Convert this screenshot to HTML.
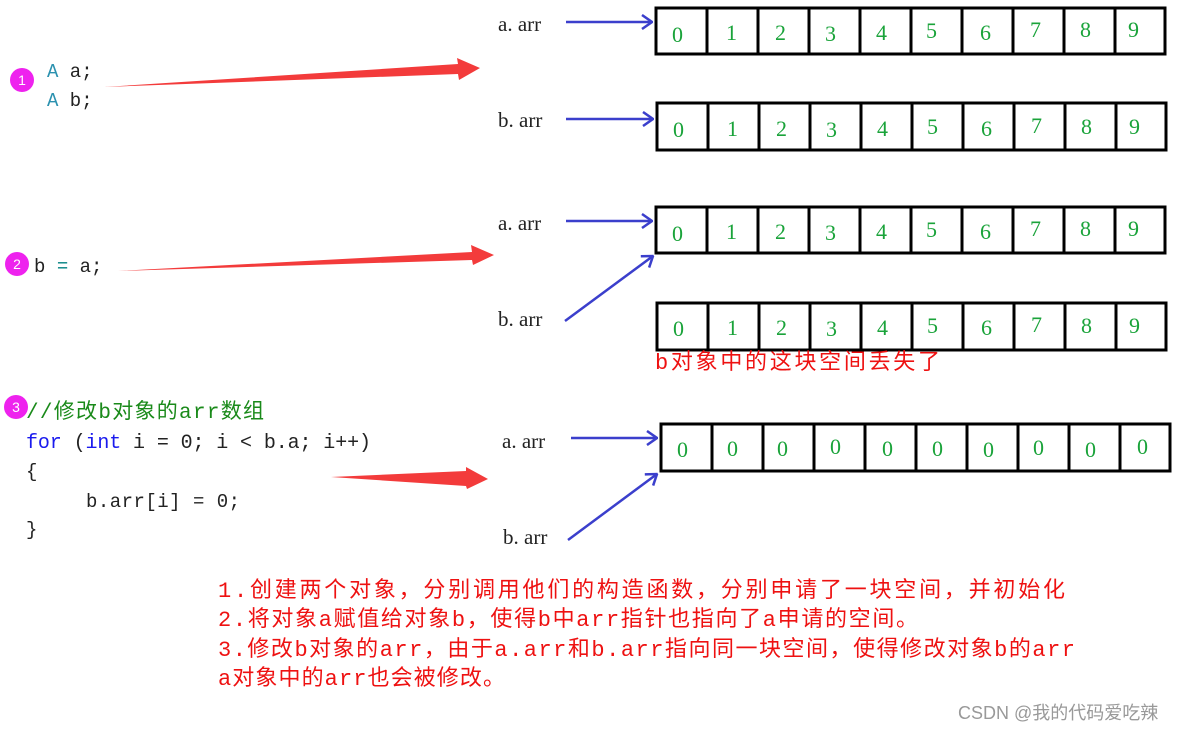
<!DOCTYPE html>
<html><head><meta charset="utf-8"><style>
body{margin:0;background:#fff;}
svg{display:block;}
</style></head><body>
<svg width="1184" height="731" xmlns="http://www.w3.org/2000/svg" font-family="'Liberation Serif','Noto Serif CJK SC',serif">
<defs>
<marker id="ob" markerWidth="12" markerHeight="16" refX="11" refY="8" orient="auto" markerUnits="userSpaceOnUse">
<path d="M1,1 L11,8 L1,15" fill="none" stroke="#3b3fcc" stroke-width="2.5"/></marker>
</defs>
<g stroke="#000" stroke-width="3" fill="none">
<rect x="656" y="8" width="509" height="46"/>
<rect x="657" y="103" width="509" height="47"/>
<rect x="656" y="207" width="509" height="46"/>
<rect x="657" y="303" width="509" height="47"/>
<rect x="661" y="424" width="509" height="47"/>
</g>
<g stroke="#000" stroke-width="3">
<path d="M707,8V54M758,8V54M809,8V54M860,8V54M911,8V54M962,8V54M1013,8V54M1064,8V54M1115,8V54"/>
<path d="M708,103V150M759,103V150M810,103V150M861,103V150M912,103V150M963,103V150M1014,103V150M1065,103V150M1116,103V150"/>
<path d="M707,207V253M758,207V253M809,207V253M860,207V253M911,207V253M962,207V253M1013,207V253M1064,207V253M1115,207V253"/>
<path d="M708,303V350M759,303V350M810,303V350M861,303V350M912,303V350M963,303V350M1014,303V350M1065,303V350M1116,303V350"/>
<path d="M712,424V471M763,424V471M814,424V471M865,424V471M916,424V471M967,424V471M1018,424V471M1069,424V471M1120,424V471"/>
</g>
<g fill="#1aa33a" font-size="22">
<text x="672" y="42">0</text><text x="726" y="40">1</text><text x="775" y="40">2</text><text x="825" y="41">3</text><text x="876" y="40">4</text><text x="926" y="38">5</text><text x="980" y="40">6</text><text x="1030" y="37">7</text><text x="1080" y="37">8</text><text x="1128" y="37">9</text>
<text x="673" y="137">0</text><text x="727" y="136">1</text><text x="776" y="136">2</text><text x="826" y="137">3</text><text x="877" y="136">4</text><text x="927" y="134">5</text><text x="981" y="136">6</text><text x="1031" y="133">7</text><text x="1081" y="134">8</text><text x="1129" y="134">9</text>
<text x="672" y="241">0</text><text x="726" y="239">1</text><text x="775" y="239">2</text><text x="825" y="240">3</text><text x="876" y="239">4</text><text x="926" y="237">5</text><text x="980" y="239">6</text><text x="1030" y="236">7</text><text x="1080" y="236">8</text><text x="1128" y="236">9</text>
<text x="673" y="336">0</text><text x="727" y="335">1</text><text x="776" y="335">2</text><text x="826" y="336">3</text><text x="877" y="335">4</text><text x="927" y="333">5</text><text x="981" y="335">6</text><text x="1031" y="332">7</text><text x="1081" y="333">8</text><text x="1129" y="333">9</text>
<text x="677" y="457">0</text><text x="727" y="456">0</text><text x="777" y="456">0</text><text x="830" y="454">0</text><text x="882" y="456">0</text><text x="932" y="456">0</text><text x="983" y="457">0</text><text x="1033" y="455">0</text><text x="1085" y="457">0</text><text x="1137" y="454">0</text>
</g>
<g font-size="21" fill="#222">
<text x="498" y="31">a. arr</text><text x="498" y="127">b. arr</text>
<text x="498" y="230">a. arr</text><text x="498" y="326">b. arr</text>
<text x="502" y="448">a. arr</text><text x="503" y="544">b. arr</text>
</g>
<g stroke="#3b3fcc" stroke-width="2.5" fill="none" marker-end="url(#ob)">
<line x1="566" y1="22" x2="652" y2="22"/>
<line x1="566" y1="119" x2="653" y2="119"/>
<line x1="566" y1="221" x2="652" y2="221"/>
<line x1="565" y1="321" x2="653" y2="256"/>
<line x1="571" y1="438" x2="657" y2="438"/>
<line x1="568" y1="540" x2="657" y2="474"/>
</g>
<g fill="#f33b3b">
<path d="M104,87 L458,64 L457,58 L480,68 L459,80 L458,74 Z"/>
<path d="M118,271 L472,252 L471,245 L494,255 L473,265 L472,260 Z"/>
<path d="M331,477 L466,471 L466,467 L488,479 L467,489 L466,486 Z"/>
</g>
<g fill="#ee22ee"><circle cx="22" cy="80" r="12"/><circle cx="17" cy="264" r="12"/><circle cx="16" cy="407" r="12"/></g>
<g fill="#fff" font-family="'Liberation Sans',sans-serif" font-size="14" text-anchor="middle"><text x="22" y="85">1</text><text x="17" y="269">2</text><text x="16" y="412">3</text></g>
<g font-size="19" font-family="'Liberation Mono','Noto Sans CJK SC',monospace">
<text x="47" y="77"><tspan fill="#2b91af">A</tspan><tspan fill="#222"> a;</tspan></text>
<text x="47" y="106"><tspan fill="#2b91af">A</tspan><tspan fill="#222"> b;</tspan></text>
<text x="34" y="272" fill="#222">b <tspan fill="#008080">=</tspan> a;</text>
<text x="26" y="418" fill="#1a8a1a" font-size="21" textLength="238">//修改b对象的arr数组</text>
<text x="26" y="448" font-size="20" textLength="345"><tspan fill="#1a1aee">for</tspan><tspan fill="#222"> (</tspan><tspan fill="#1a1aee">int</tspan><tspan fill="#222"> i = 0; i &lt; b.a; i++)</tspan></text>
<text x="26" y="477" fill="#222">{</text>
<text x="86" y="507" fill="#222" textLength="154">b.arr[i] = 0;</text>
<text x="26" y="535" fill="#222">}</text>
</g>
<g fill="#ee1111" font-size="22" font-family="'Liberation Mono','Noto Sans CJK SC',monospace">
<text x="655" y="369" textLength="285">b对象中的这块空间丢失了</text>
<text x="218" y="597" textLength="847">1.创建两个对象，分别调用他们的构造函数，分别申请了一块空间，并初始化</text>
<text x="218" y="626" textLength="700">2.将对象a赋值给对象b，使得b中arr指针也指向了a申请的空间。</text>
<text x="218" y="656" textLength="857">3.修改b对象的arr，由于a.arr和b.arr指向同一块空间，使得修改对象b的arr</text>
<text x="218" y="685" textLength="287">a对象中的arr也会被修改。</text>
</g>
<text x="958" y="719" fill="#999" font-size="18" font-family="'Liberation Sans','Noto Sans CJK SC',sans-serif">CSDN @我的代码爱吃辣</text>
</svg>
</body></html>
